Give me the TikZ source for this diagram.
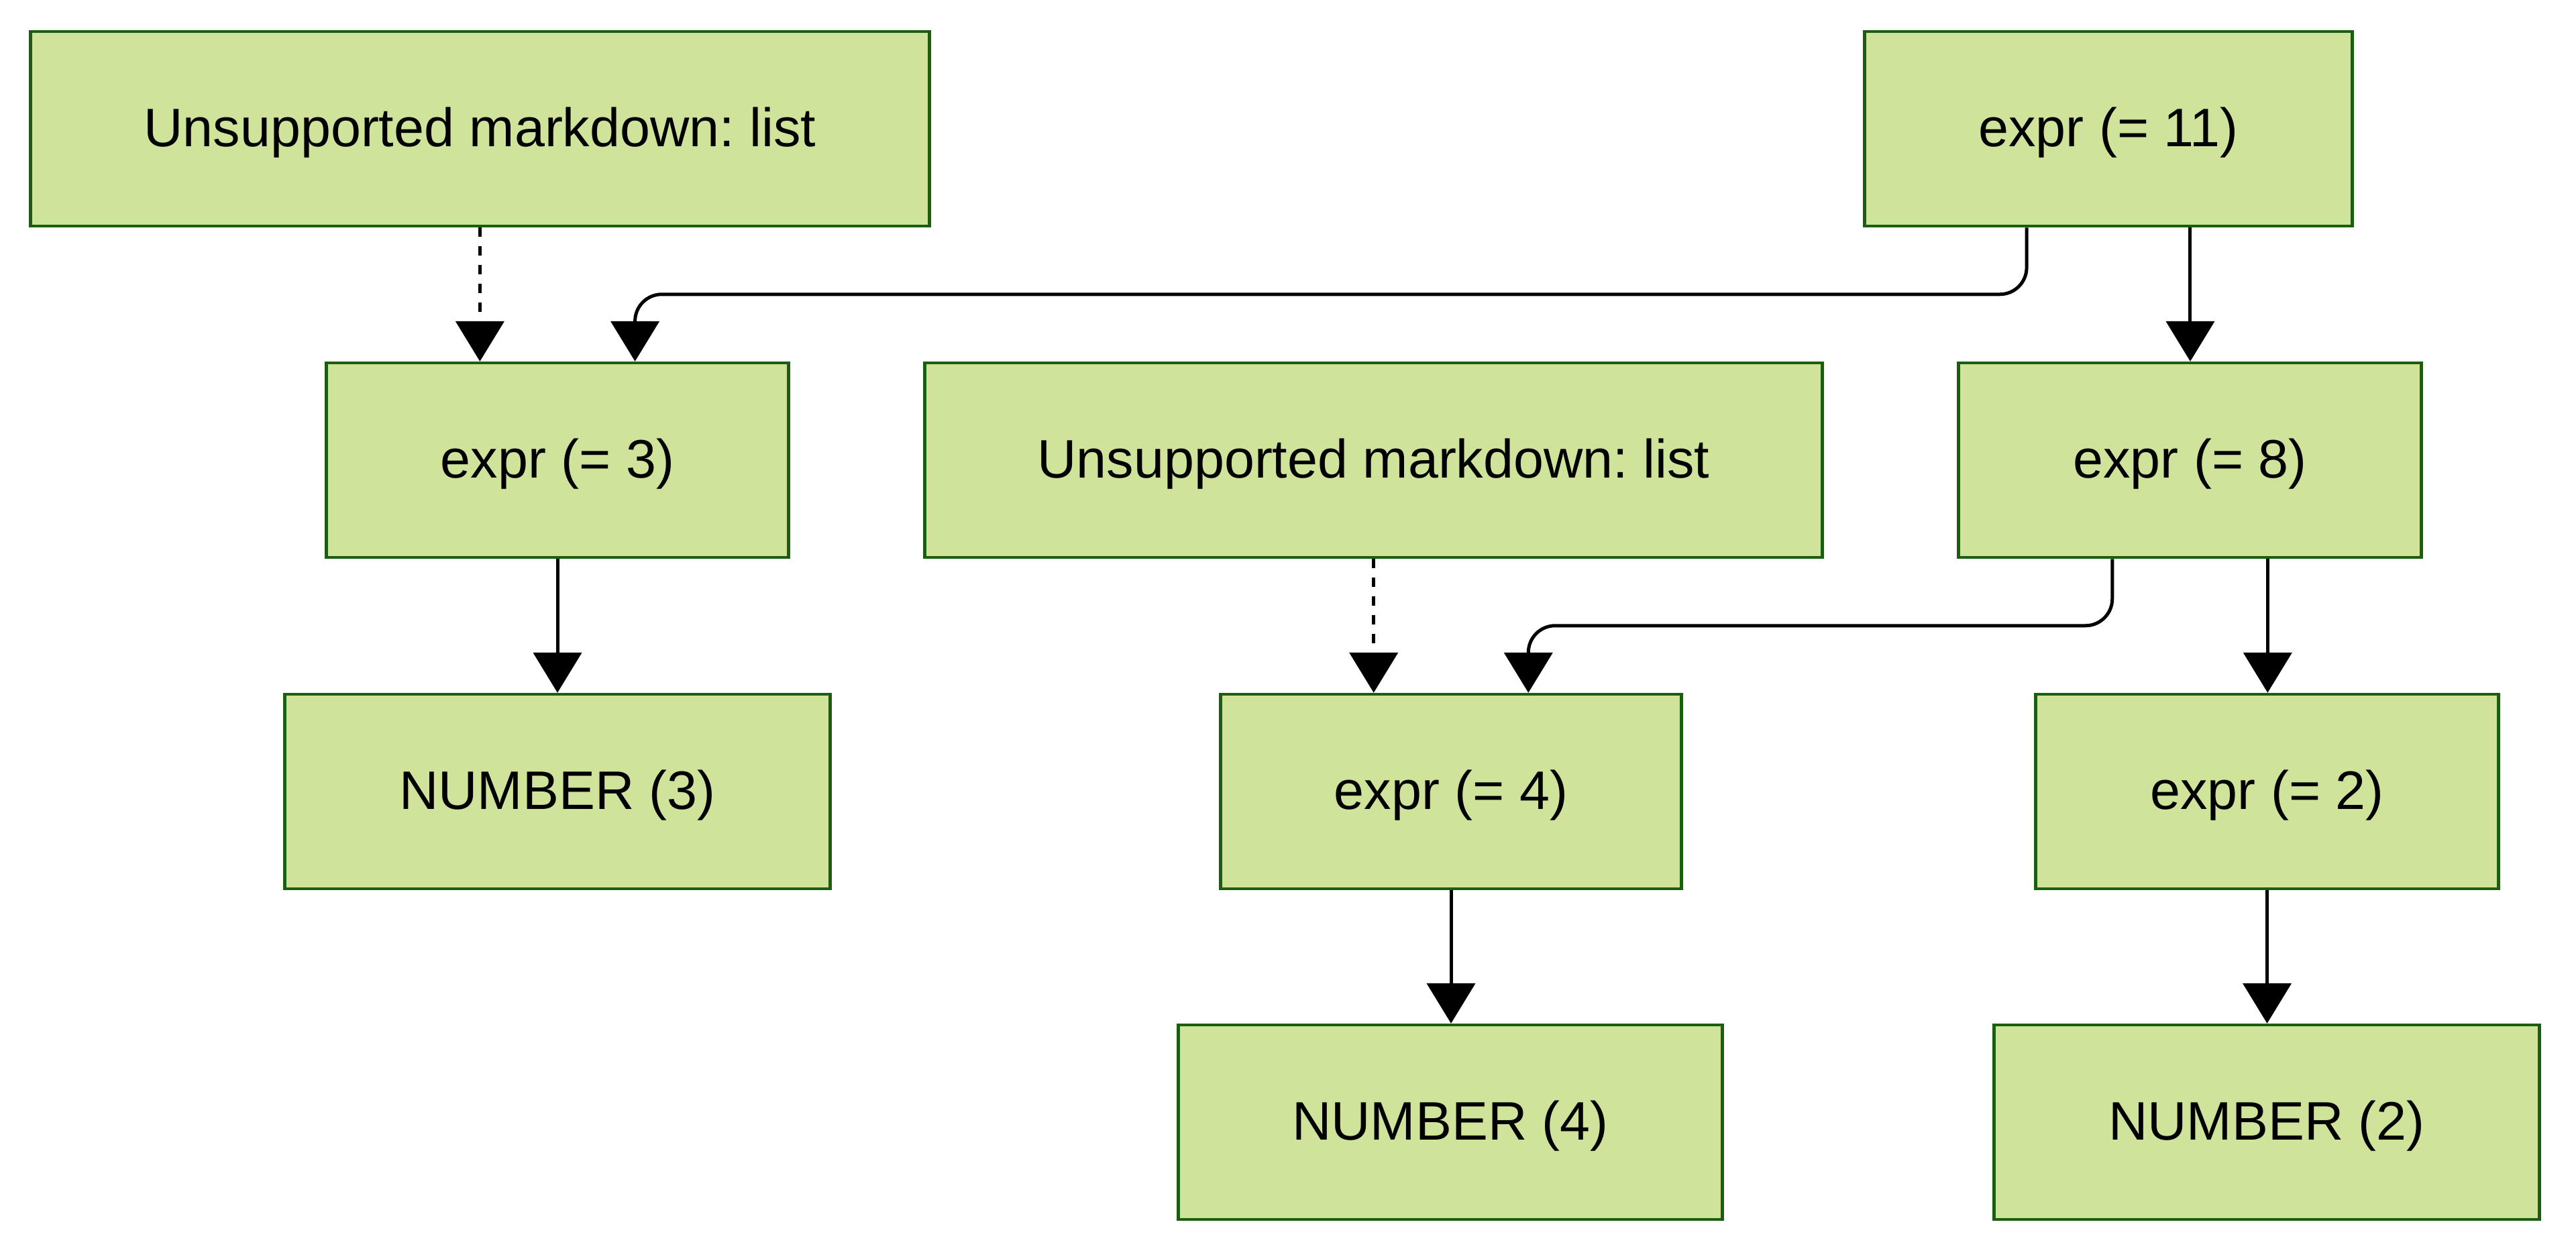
\documentclass[tikz,border=0pt]{standalone}
\usepackage{fontspec}
\setmainfont{Liberation Sans}
\usetikzlibrary{arrows.meta,calc}
\frenchspacing
\definecolor{boxfill}{HTML}{CFE39B}
\definecolor{boxline}{HTML}{1B5E12}
\tikzset{
  treebox/.style={rectangle, draw=boxline, fill=boxfill, line width=0.045cm,
    minimum height=2.9cm, inner sep=0pt, text=black, text depth=0.05cm,
    font=\fontsize{23}{28}\selectfont},
  conn/.style={draw=black, line width=0.05cm,
    -{Triangle[width=0.72cm,length=0.6cm]}},
  dashconn/.style={conn, dash pattern=on 0.14cm off 0.14cm},
  bendconn/.style={conn, rounded corners=0.4cm}
}
\begin{document}
\begin{tikzpicture}
\useasboundingbox (0,0) rectangle (38.4,-18.7);
% row 1
\node[treebox, minimum width=13.4cm] (U1) at (7.155,-1.92) {Unsupported markdown: list};
\node[treebox, minimum width=7.27cm] (E11) at (31.43,-1.92) {expr (= 11)};
% row 2
\node[treebox, minimum width=6.89cm] (E3) at (8.31,-6.86) {expr (= 3)};
\node[treebox, minimum width=13.38cm] (U2) at (20.475,-6.86) {Unsupported markdown: list};
\node[treebox, minimum width=6.9cm] (E8) at (32.645,-6.86) {expr (= 8)};
% row 3
\node[treebox, minimum width=8.13cm] (N3) at (8.31,-11.80) {NUMBER (3)};
\node[treebox, minimum width=6.87cm] (E4) at (21.63,-11.80) {expr (= 4)};
\node[treebox, minimum width=6.9cm] (E2) at (33.795,-11.80) {expr (= 2)};
% row 4
\node[treebox, minimum width=8.11cm] (N4) at (21.62,-16.73) {NUMBER (4)};
\node[treebox, minimum width=8.13cm] (N2) at (33.79,-16.73) {NUMBER (2)};
% anchor points
\coordinate (e3a) at ($(E3.north west)!0.3333!(E3.north east)$);
\coordinate (e3b) at ($(E3.north west)!0.6667!(E3.north east)$);
\coordinate (e11a) at ($(E11.south west)!0.3333!(E11.south east)$);
\coordinate (e11b) at ($(E11.south west)!0.6667!(E11.south east)$);
\coordinate (e4a) at ($(E4.north west)!0.3333!(E4.north east)$);
\coordinate (e4b) at ($(E4.north west)!0.6667!(E4.north east)$);
\coordinate (e8a) at ($(E8.south west)!0.3333!(E8.south east)$);
\coordinate (e8b) at ($(E8.south west)!0.6667!(E8.south east)$);
% connectors
\draw[dashconn] (U1.south -| e3a) -- (e3a);
\draw[bendconn] (e11a) |- ($(e3b)+(0,1.0)$) -- (e3b);
\draw[conn] (e11b) -- (e11b |- E8.north);
\draw[conn] (E3.south) -- (N3.north);
\draw[dashconn] (U2.south -| e4a) -- (e4a);
\draw[bendconn] (e8a) |- ($(e4b)+(0,1.0)$) -- (e4b);
\draw[conn] (e8b) -- (e8b |- E2.north);
\draw[conn] (E4.south) -- (E4.south |- N4.north);
\draw[conn] (E2.south) -- (E2.south |- N2.north);
\end{tikzpicture}
\end{document}
